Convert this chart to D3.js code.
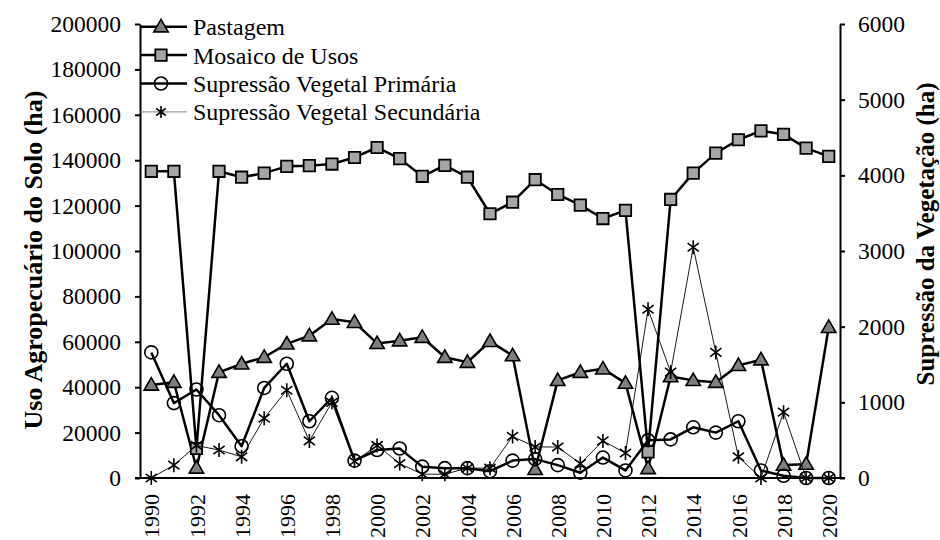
<!DOCTYPE html>
<html>
<head>
<meta charset="utf-8">
<script src="https://cdn.jsdelivr.net/npm/d3@7"></script>
<style>
  body { margin: 0; background: #fff; }
</style>
</head>
<body>
<script>
const width = 940
const height = 540
const font = "'Times New Roman', 'Liberation Serif', Times, serif"

const years = d3.range(1990, 2021)
const yearLabels = years.filter(d => d % 2 == 0)

// ha, eixo esquerdo
const pastagem = [41000, 42200, 4400, 46600, 50300, 53200, 59100, 62700, 70000, 68600,
    59300, 60500, 62000, 53200, 51000, 60200, 53900, 3800, 43000, 46600,
    48100, 41800, 4200, 44700, 43000, 42200, 49600, 52100, 5700, 6100, 66400]
const mosaico = [135100, 135100, 13000, 135100, 132500, 134300, 137300, 137600, 138300, 141200,
    145600, 140700, 132900, 137700, 132500, 116400, 121500, 131400, 124900, 120200,
    114300, 117900, 11500, 122700, 134300, 143100, 149000, 152900, 151400, 145300, 141700]
// ha, eixo direito
const supPrimaria = [1660, 990, 1170, 830, 420, 1190, 1510, 750, 1060, 230,
    370, 390, 150, 130, 130, 90, 230, 250, 170, 70,
    270, 100, 500, 510, 670, 600, 750, 100, 30, 0, 0]
const supSecundaria = [0, 170, 430, 370, 280, 790, 1160, 490, 1000, 220,
    430, 190, 50, 50, 130, 130, 550, 410, 410, 190,
    490, 330, 2230, 1400, 3050, 1660, 280, 0, 870, 0, 0]

const leftTicks = d3.range(0, 200001, 20000)
const rightTicks = d3.range(0, 6001, 1000)
const seriesNames = ["Pastagem", "Mosaico de Usos", "Supressão Vegetal Primária", "Supressão Vegetal Secundária"]

const pLeft = 140, pRight = 840, pTop = 24, pBottom = 478

let svg = d3.select("body")
    .append("svg")
    .attr("width", width)
    .attr("height", height)
    .style("font-family", font)

let x = d3.scalePoint()
    .domain(years)
    .range([pLeft, pRight])
    .padding(0.5)

let yL = d3.scaleLinear().domain([0, 200000]).range([pBottom, pTop])
let yR = d3.scaleLinear().domain([0, 6000]).range([pBottom, pTop])

// eixos
let axL = svg.append("g")
    .attr("transform", `translate(${pLeft},0)`)
    .call(d3.axisLeft(yL).tickValues(leftTicks).tickFormat(d3.format("d"))
        .tickSize(5).tickSizeOuter(0).tickPadding(14))
let axR = svg.append("g")
    .attr("transform", `translate(${pRight},0)`)
    .call(d3.axisRight(yR).tickValues(rightTicks).tickFormat(d3.format("d"))
        .tickSize(5).tickSizeOuter(0).tickPadding(13))
let axB = svg.append("g")
    .attr("transform", `translate(0,${pBottom})`)
    .call(d3.axisBottom(x).tickValues(yearLabels).tickSize(0).tickSizeOuter(0))

axB.select(".domain").remove()
svg.append("line")
    .attr("x1", pLeft - 5).attr("x2", pRight + 5)
    .attr("y1", pBottom).attr("y2", pBottom)
    .attr("stroke", "black").attr("stroke-width", 2)

svg.selectAll("g").attr("font-family", null)
svg.selectAll(".tick text")
    .style("font-family", font)
    .attr("font-size", "23.5px")
    .attr("fill", "black")

axB.selectAll("text")
    .attr("transform", "rotate(-90)")
    .attr("x", -16)
    .attr("y", 0)
    .attr("dy", "0.35em")
    .attr("text-anchor", "end")
    .attr("font-size", "22px")

svg.selectAll(".domain, .tick line")
    .attr("stroke", "black")
    .attr("stroke-width", 2)

svg.append("text")
    .attr("transform", `translate(33,260) rotate(-90)`)
    .attr("text-anchor", "middle")
    .attr("dy", "0.35em")
    .attr("font-size", "26px")
    .attr("font-weight", "bold")
    .style("font-family", font)
    .text("Uso Agropecuário do Solo (ha)")

svg.append("text")
    .attr("transform", `translate(925,234) rotate(-90)`)
    .attr("text-anchor", "middle")
    .attr("dy", "0.35em")
    .attr("font-size", "25px")
    .attr("font-weight", "bold")
    .style("font-family", font)
    .text("Supressão da Vegetação (ha)")

// marcadores
const triPath = d3.symbol().type(d3.symbolTriangle).size(90)()
const sqPath = d3.symbol().type(d3.symbolSquare).size(130)()
const starPath = (r) => `M0,${-r}L0,${r}M${-r*0.8},${-r*0.6}L${r*0.8},${r*0.6}M${-r*0.8},${r*0.6}L${r*0.8},${-r*0.6}`

const series = [
    {name: seriesNames[0], values: pastagem, y: yL, width: 2.5, marker: "tri"},
    {name: seriesNames[1], values: mosaico, y: yL, width: 2.5, marker: "sq"},
    {name: seriesNames[2], values: supPrimaria, y: yR, width: 2.5, marker: "circ"},
    {name: seriesNames[3], values: supSecundaria, y: yR, width: 0.9, marker: "star"}
]

function drawMarker(g, type, big){
    if(type == "tri"){
        g.append("path").attr("d", triPath)
            .attr("transform", "translate(0,1)")
            .attr("fill", "#7f7f7f").attr("stroke", "black").attr("stroke-width", 1.6)
    } else if(type == "sq"){
        g.append("path").attr("d", sqPath)
            .attr("fill", "#a5a5a5").attr("stroke", "black").attr("stroke-width", 1.8)
    } else if(type == "circ"){
        g.append("circle").attr("r", 6.5)
            .attr("fill", "none").attr("stroke", "black").attr("stroke-width", 1.6)
    } else {
        g.append("path").attr("d", starPath(big ? 7 : 6))
            .attr("fill", "none").attr("stroke", "black").attr("stroke-width", 1.6)
    }
}

series.forEach(s => {
    let line = d3.line()
        .x((d, i) => x(years[i]))
        .y(d => s.y(d))
    svg.append("path")
        .datum(s.values)
        .attr("d", line)
        .attr("fill", "none")
        .attr("stroke", "black")
        .attr("stroke-width", s.width)
        .attr("stroke-linejoin", "round")
    svg.selectAll(null)
        .data(s.values)
        .enter()
        .append("g")
        .attr("transform", (d, i) => `translate(${x(years[i])},${s.y(d)})`)
        .each(function(){ drawMarker(d3.select(this), s.marker, true) })
})

// legenda
let leg = svg.selectAll(".leg")
    .data(series)
    .enter()
    .append("g")
    .attr("transform", (d, i) => `translate(${pLeft},${26.7 + i * 28.4})`)

leg.append("line")
    .attr("x1", 0).attr("x2", 47)
    .attr("stroke", (d, i) => i == 3 ? "#777" : "black")
    .attr("stroke-width", d => d.width)
leg.append("g")
    .attr("transform", "translate(21,0)")
    .each(function(d){ drawMarker(d3.select(this), d.marker, false) })
leg.append("text")
    .attr("x", 53)
    .attr("dy", "0.35em")
    .attr("font-size", "24px")
    .style("font-family", font)
    .text(d => d.name)
</script>
</body>
</html>
